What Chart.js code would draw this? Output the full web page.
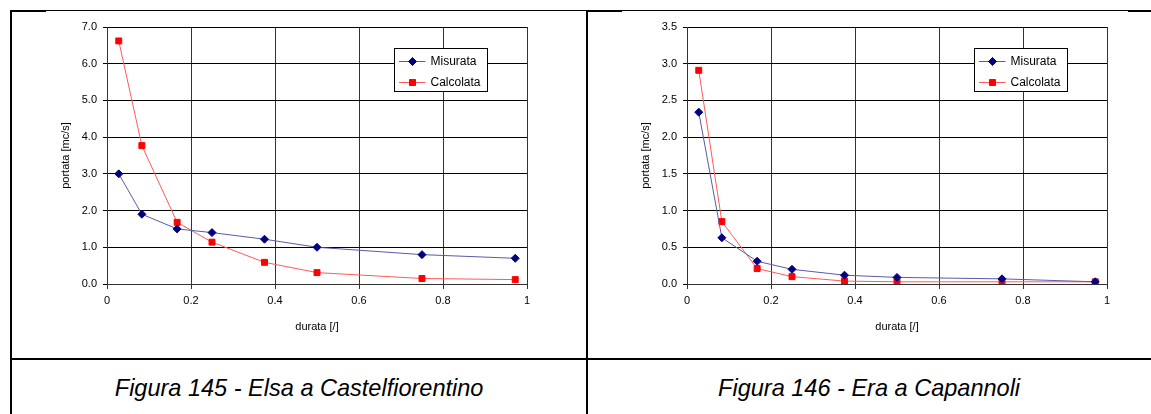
<!DOCTYPE html>
<html>
<head>
<meta charset="utf-8">
<script src="https://cdn.jsdelivr.net/npm/chart.js@4/dist/chart.umd.min.js"></script>
<style>
  body { margin: 0; background: #fff; width: 1151px; height: 414px; overflow: hidden; position: relative; font-family: 'Liberation Sans', Arial, sans-serif; }
  .ln { position: absolute; background: #000; }
  canvas { position: absolute; }
  .cap { position: absolute; top: 369px; height: 38px; line-height: 38px; text-align: center; font-style: italic; font-size: 24px; color: #000; }
  .cap span { display: inline-block; transform: scaleX(0.98); }
</style>
</head>
<body>
<div class="ln" style="left:10px;top:10px;width:1141px;height:1px"></div>
<div class="ln" style="left:10px;top:10px;width:36px;height:2px"></div>
<div class="ln" style="left:586px;top:10px;width:36px;height:2px"></div>
<div class="ln" style="left:1128px;top:10px;width:23px;height:2px"></div>
<div class="ln" style="left:10px;top:10px;width:2px;height:404px"></div>
<div class="ln" style="left:586px;top:10px;width:2px;height:404px"></div>
<div class="ln" style="left:10px;top:358px;width:1141px;height:2px"></div>

<canvas id="c1" width="572" height="343" style="left:12px;top:12px"></canvas>
<canvas id="c2" width="563" height="343" style="left:588px;top:12px"></canvas>

<div class="cap" style="left:12px;width:574px"><span>Figura 145 - Elsa a Castelfiorentino</span></div>
<div class="cap" style="left:588px;width:563px"><span>Figura 146 - Era a Capannoli</span></div>

<script>
// durata [/] dei punti
const durata = [0.028, 0.083, 0.167, 0.25, 0.375, 0.5, 0.75, 0.972];

// Elsa a Castelfiorentino
const elsaMisurata = [3.0, 1.9, 1.5, 1.4, 1.22, 1.0, 0.8, 0.7];
const elsaCalcolata = [6.62, 3.77, 1.68, 1.14, 0.59, 0.31, 0.15, 0.12];

// Era a Capannoli
const eraMisurata = [2.34, 0.63, 0.31, 0.2, 0.12, 0.09, 0.07, 0.03];
const eraCalcolata = [2.91, 0.85, 0.21, 0.1, 0.04, 0.03, 0.03, 0.03];

const serieNomi = ['Misurata', 'Calcolata'];
const xTicks = [0, 0.2, 0.4, 0.6, 0.8, 1];

const font = "'Liberation Sans', Arial, sans-serif";

function pts(ys) {
    return ys.map((y, i) => ({ x: durata[i], y: y }));
}

// legenda con riquadro dentro l'area del grafico
const boxLegend = {
    id: 'boxLegend',
    afterDraw(chart) {
        const ctx = chart.ctx;
        const a = chart.chartArea;
        const bx = a.left + 287.5, by = a.top + 21.5, bw = 93, bh = 43;
        ctx.save();
        ctx.fillStyle = '#fff';
        ctx.fillRect(bx, by, bw, bh);
        ctx.strokeStyle = '#000';
        ctx.lineWidth = 1;
        ctx.strokeRect(bx, by, bw, bh);
        chart.data.datasets.forEach((ds, i) => {
            const y = Math.round(by + 12.5 + i * 20.5) + 0.5;
            ctx.strokeStyle = ds.borderColor;
            ctx.beginPath();
            ctx.moveTo(bx + 4.5, y);
            ctx.lineTo(bx + 31, y);
            ctx.stroke();
            ctx.fillStyle = ds.pointBackgroundColor;
            ctx.strokeStyle = ds.pointBorderColor;
            Chart.helpers.drawPoint(ctx, { pointStyle: ds.pointStyle, radius: ds.pointRadius, borderWidth: 1 }, bx + 18, y);
            ctx.fill();
            ctx.fillStyle = '#000';
            ctx.font = '12px ' + font;
            ctx.textBaseline = 'middle';
            ctx.fillText(ds.label, bx + 36, y);
        });
        ctx.restore();
    }
};

function makeChart(id, misurata, calcolata, yMax, yStep, axisW, rightPad, titlePad) {
    return new Chart(document.getElementById(id), {
        type: 'line',
        data: {
            datasets: [{
                label: serieNomi[0],
                data: pts(misurata),
                borderColor: '#5a5aa8',
                borderWidth: 1,
                pointStyle: 'rectRot',
                pointRadius: 4,
                pointBackgroundColor: '#000080',
                pointBorderColor: '#000080',
                pointBorderWidth: 1,
                tension: 0,
                fill: false
            }, {
                label: serieNomi[1],
                data: pts(calcolata),
                borderColor: '#ff5a5a',
                borderWidth: 1,
                pointStyle: 'rect',
                pointRadius: 4.2,
                pointBackgroundColor: '#ff0000',
                pointBorderColor: '#ff0000',
                pointBorderWidth: 1,
                tension: 0,
                fill: false
            }]
        },
        options: {
            responsive: false,
            animation: false,
            layout: { padding: { left: 0, right: rightPad, top: 15, bottom: 0 } },
            plugins: { legend: { display: false }, tooltip: { enabled: false } },
            scales: {
                x: {
                    type: 'linear',
                    min: 0,
                    max: 1,
                    afterBuildTicks: s => { s.ticks = xTicks.map(v => ({ value: v })); },
                    afterFit: s => { s.height = 71; },
                    grid: { color: '#333', lineWidth: 1, tickLength: 5 },
                    border: { color: '#333' },
                    ticks: {
                        color: '#000',
                        font: { family: font, size: 11 },
                        padding: 5,
                        maxRotation: 0,
                        callback: v => String(v)
                    },
                    title: {
                        display: true,
                        text: 'durata [/]',
                        color: '#000',
                        font: { family: font, size: 11 },
                        padding: { top: 0, bottom: 21 }
                    }
                },
                y: {
                    min: 0,
                    max: yMax,
                    afterFit: s => { s.width = axisW; },
                    grid: { color: '#000', lineWidth: 1, tickLength: 4 },
                    border: { color: '#333' },
                    ticks: {
                        stepSize: yStep,
                        color: '#000',
                        font: { family: font, size: 11 },
                        padding: 6,
                        callback: v => v.toFixed(1)
                    },
                    title: {
                        display: true,
                        text: 'portata [mc/s]',
                        color: '#000',
                        font: { family: font, size: 11 },
                        padding: { top: titlePad, bottom: 0 }
                    }
                }
            }
        },
        plugins: [boxLegend]
    });
}

makeChart('c1', elsaMisurata, elsaCalcolata, 7, 1, 95, 57, 47);
makeChart('c2', eraMisurata, eraCalcolata, 3.5, 0.5, 99, 44, 51);
</script>
</body>
</html>
